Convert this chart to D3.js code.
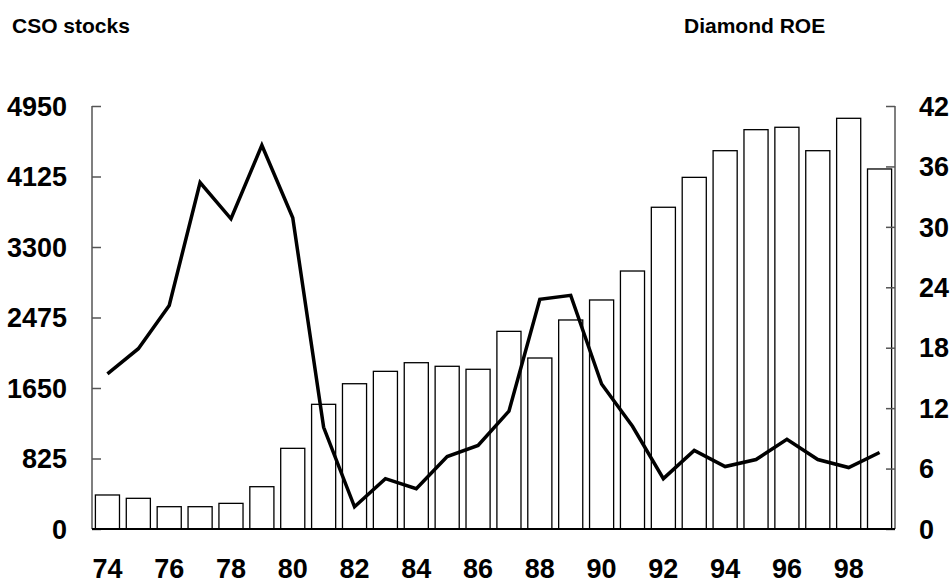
<!DOCTYPE html>
<html>
<head>
<meta charset="utf-8">
<script src="https://cdn.jsdelivr.net/npm/d3@7"></script>
<style>
  body { margin: 0; background: #fff; }
  svg { display: block; font-family: "Liberation Sans", Arial, sans-serif; font-weight: bold; }
</style>
</head>
<body>
<svg width="951" height="584"></svg>
<script>
const years = ["74", "75", "76", "77", "78", "79", "80", "81", "82", "83", "84", "85", "86",
  "87", "88", "89", "90", "91", "92", "93", "94", "95", "96", "97", "98", "99"];
// CSO stocks (left axis)
const csoStocks = [398, 359, 261, 261, 300, 495, 944, 1459, 1700, 1845, 1946, 1904, 1869,
  2313, 2001, 2446, 2680, 3019, 3765, 4115, 4427, 4673, 4701, 4427, 4806, 4213];
// Diamond ROE (right axis)
const diamondRoe = [15.4, 17.9, 22.2, 34.4, 30.8, 38.1, 30.9, 10.1, 2.2, 5.0, 4.0, 7.2, 8.3,
  11.7, 22.8, 23.2, 14.4, 10.2, 5.0, 7.8, 6.2, 6.9, 8.9, 6.9, 6.1, 7.6];
const leftTicks = [0, 825, 1650, 2475, 3300, 4125, 4950];
const rightTicks = [0, 6, 12, 18, 24, 30, 36, 42];
const xLabels = ["74", "76", "78", "80", "82", "84", "86", "88", "90", "92", "94", "96", "98"];

const margin = { top: 106, right: 56, bottom: 55, left: 92 };
const width = 951;
const height = 584;

const svg = d3.select("svg");

const xScale = d3.scaleBand()
  .domain(years)
  .range([margin.left, width - margin.right])
  .paddingInner(0.22)
  .paddingOuter(0.11);

const yLeft = d3.scaleLinear()
  .domain([0, 4950])
  .range([height - margin.bottom, margin.top]);

const yRight = d3.scaleLinear()
  .domain([0, 42])
  .range([height - margin.bottom, margin.top]);

// titles
svg.append("text").attr("x", 12).attr("y", 33).attr("font-size", 21).text("CSO stocks");
svg.append("text").attr("x", 684).attr("y", 33).attr("font-size", 21).text("Diamond ROE");

// bars
svg.append("g")
  .selectAll("rect")
  .data(csoStocks)
  .enter()
  .append("rect")
  .attr("x", (d, i) => xScale(years[i]))
  .attr("y", d => yLeft(d))
  .attr("width", xScale.bandwidth())
  .attr("height", d => yLeft(0) - yLeft(d))
  .attr("fill", "#fff")
  .attr("stroke", "#000")
  .attr("stroke-width", 1.3);

// axes
const leftAxis = d3.axisRight(yLeft).tickValues(leftTicks).tickSize(9).tickFormat("");
const gl = svg.append("g")
  .attr("transform", `translate(${margin.left},0)`)
  .call(leftAxis);
gl.select(".domain").remove();
gl.append("line")
  .attr("y1", yLeft(0)).attr("y2", yLeft(4950))
  .attr("stroke", "#555").attr("stroke-width", 1.5);
gl.selectAll(".tick line").attr("stroke", "#555").attr("stroke-width", 1.5);

const rightAxis = d3.axisLeft(yRight).tickValues(rightTicks).tickSize(9).tickFormat("");
const gr = svg.append("g")
  .attr("transform", `translate(${width - margin.right},0)`)
  .call(rightAxis);
gr.select(".domain").remove();
gr.append("line")
  .attr("y1", yRight(0)).attr("y2", yRight(42))
  .attr("stroke", "#555").attr("stroke-width", 1.5);
gr.selectAll(".tick line").attr("stroke", "#555").attr("stroke-width", 1.5);

// baseline
svg.append("line")
  .attr("x1", margin.left).attr("x2", width - margin.right)
  .attr("y1", yLeft(0)).attr("y2", yLeft(0))
  .attr("stroke", "#000").attr("stroke-width", 2);

// tick labels
svg.append("g")
  .selectAll("text")
  .data(leftTicks)
  .enter()
  .append("text")
  .attr("x", 67)
  .attr("y", d => yLeft(d))
  .attr("dy", "0.36em")
  .attr("text-anchor", "end")
  .attr("font-size", 27)
  .text(d => d);

svg.append("g")
  .selectAll("text")
  .data(rightTicks)
  .enter()
  .append("text")
  .attr("x", 919)
  .attr("y", d => yRight(d))
  .attr("dy", "0.36em")
  .attr("font-size", 27)
  .text(d => d);

svg.append("g")
  .selectAll("text")
  .data(xLabels)
  .enter()
  .append("text")
  .attr("x", d => xScale(d) + xScale.bandwidth() / 2)
  .attr("y", 578)
  .attr("text-anchor", "middle")
  .attr("font-size", 27)
  .text(d => d);

// ROE line
const valueline = d3.line()
  .x((d, i) => xScale(years[i]) + xScale.bandwidth() / 2)
  .y(d => yRight(d));

svg.append("path")
  .attr("d", valueline(diamondRoe))
  .attr("fill", "none")
  .attr("stroke", "#000")
  .attr("stroke-width", 3.5)
  .attr("stroke-linejoin", "miter");
</script>
</body>
</html>
